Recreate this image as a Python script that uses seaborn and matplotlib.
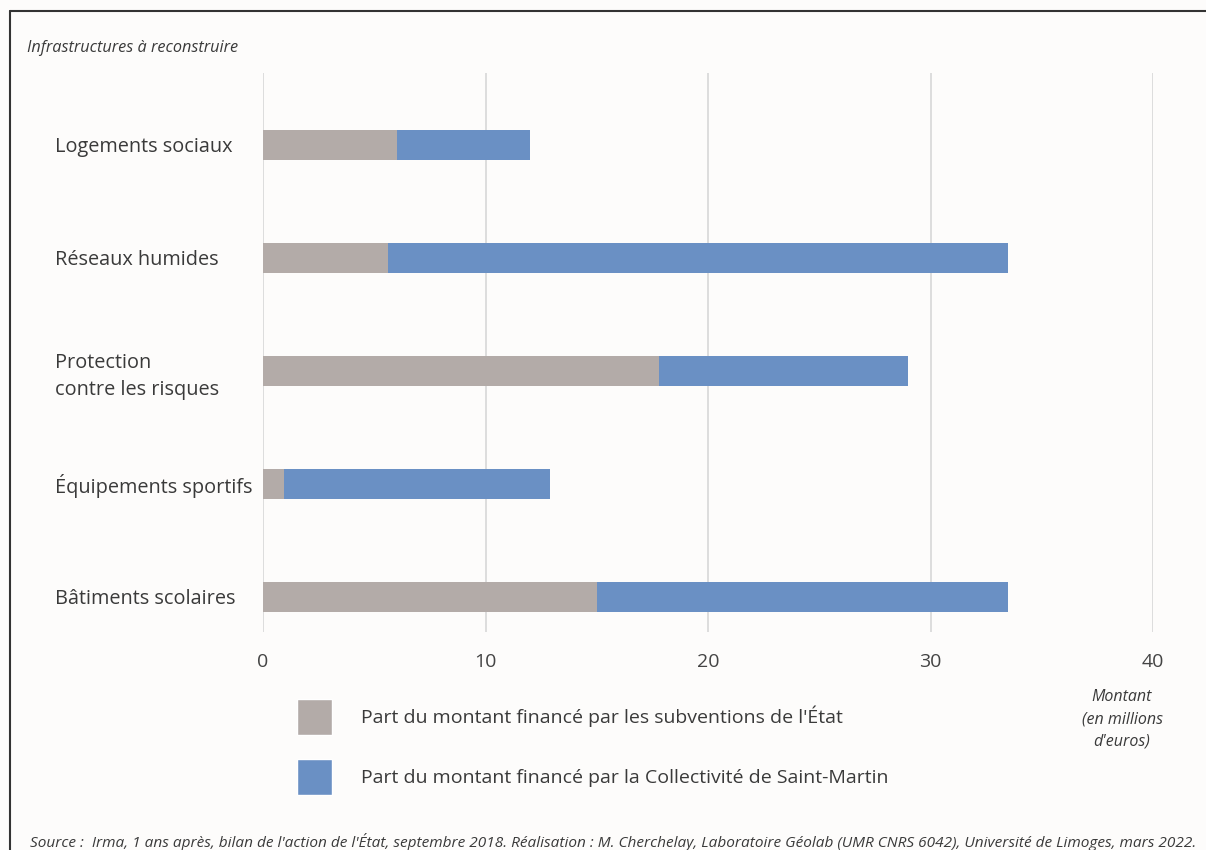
import matplotlib
matplotlib.use("Agg")
import matplotlib.pyplot as plt
import matplotlib.patches as mpatches
from matplotlib.lines import Line2D
import pandas as pd
import seaborn as sns

categories = ["Logements sociaux", "Réseaux humides", "Protection\ncontre les risques",
              "Équipements sportifs", "Bâtiments scolaires"]
part_etat = [6.0, 5.6, 17.8, 0.95, 15.0]
part_collectivite = [6.0, 27.9, 11.2, 11.95, 18.5]
x_ticks = [0, 10, 20, 30, 40]

label_etat = "Part du montant financé par les subventions de l'État"
label_coll = "Part du montant financé par la Collectivité de Saint-Martin"
color_etat = "#b3aba8"
color_coll = "#6a90c4"

df = pd.DataFrame({"categorie": categories, "etat": part_etat, "collectivite": part_collectivite})
df["total"] = df["etat"] + df["collectivite"]

sns.set_style("white")
plt.rcParams["font.family"] = ["Open Sans", "DejaVu Sans"]
text_col = "#3a3a3a"

fig = plt.figure(figsize=(12.06, 8.5), dpi=100, facecolor="#fdfcfb")
ax = fig.add_axes([0.2181, 0.2565, 0.7380, 0.6576])
ax.set_facecolor("#fdfcfb")

# stacked bars: total in blue, state share drawn over it
sns.barplot(data=df, x="total", y="categorie", orient="h", color=color_coll,
            width=0.265, saturation=1, linewidth=0, ax=ax, zorder=3)
sns.barplot(data=df, x="etat", y="categorie", orient="h", color=color_etat,
            width=0.265, saturation=1, linewidth=0, ax=ax, zorder=4)

ax.set_xlim(0, 40)
ax.set_ylim(4.31, -0.637)
ax.set_xticks(x_ticks)
ax.set_xticklabels([str(t) for t in x_ticks], fontsize=14, color="#444444")
ax.tick_params(axis="x", length=0, pad=15)
ax.tick_params(axis="y", length=0, pad=150)
for lab in ax.get_yticklabels():
    lab.set_ha("left")
    lab.set_fontsize(14.3)
    lab.set_color(text_col)
    lab.set_linespacing(1.45)
ax.grid(axis="x", color="#dddddd", linewidth=1.4, zorder=0)
ax.grid(axis="y", visible=False)
for s in ax.spines.values():
    s.set_visible(False)
ax.set_xlabel("")
ax.set_ylabel("")

fig.text(27 / 1206, 1 - 48 / 850, "Infrastructures à reconstruire", fontsize=11.7,
         style="italic", color=text_col, ha="left", va="center")
fig.text(1122 / 1206, 1 - 719 / 850, "Montant\n(en millions\nd'euros)", fontsize=11.5,
         style="italic", color=text_col, ha="center", va="center", linespacing=1.5)

handles = [mpatches.Patch(facecolor=color_etat, label=label_etat),
           mpatches.Patch(facecolor=color_coll, label=label_coll)]
fig.legend(handles=handles, loc="upper left", bbox_to_anchor=(297 / 1206, 1 - 699 / 850),
           frameon=False, fontsize=14, handlelength=1.8, handleheight=2.45,
           handletextpad=1.5, labelspacing=1.25, borderpad=0, borderaxespad=0,
           labelcolor=text_col)

fig.text(30 / 1206, 1 - 842 / 850,
         "Source :  Irma, 1 ans après, bilan de l'action de l'État, septembre 2018. "
         "Réalisation : M. Cherchelay, Laboratoire Géolab (UMR CNRS 6042), Université de Limoges, mars 2022.",
         fontsize=11.1, style="italic", color=text_col, ha="left", va="center")

# frame lines (top and left)
fig.add_artist(Line2D([10 / 1206, 1], [1 - 11 / 850, 1 - 11 / 850], color="#333333", linewidth=1.5))
fig.add_artist(Line2D([10 / 1206, 10 / 1206], [0, 1 - 11 / 850], color="#333333", linewidth=1.5))

fig.savefig("out.png", dpi=100, facecolor=fig.get_facecolor())
